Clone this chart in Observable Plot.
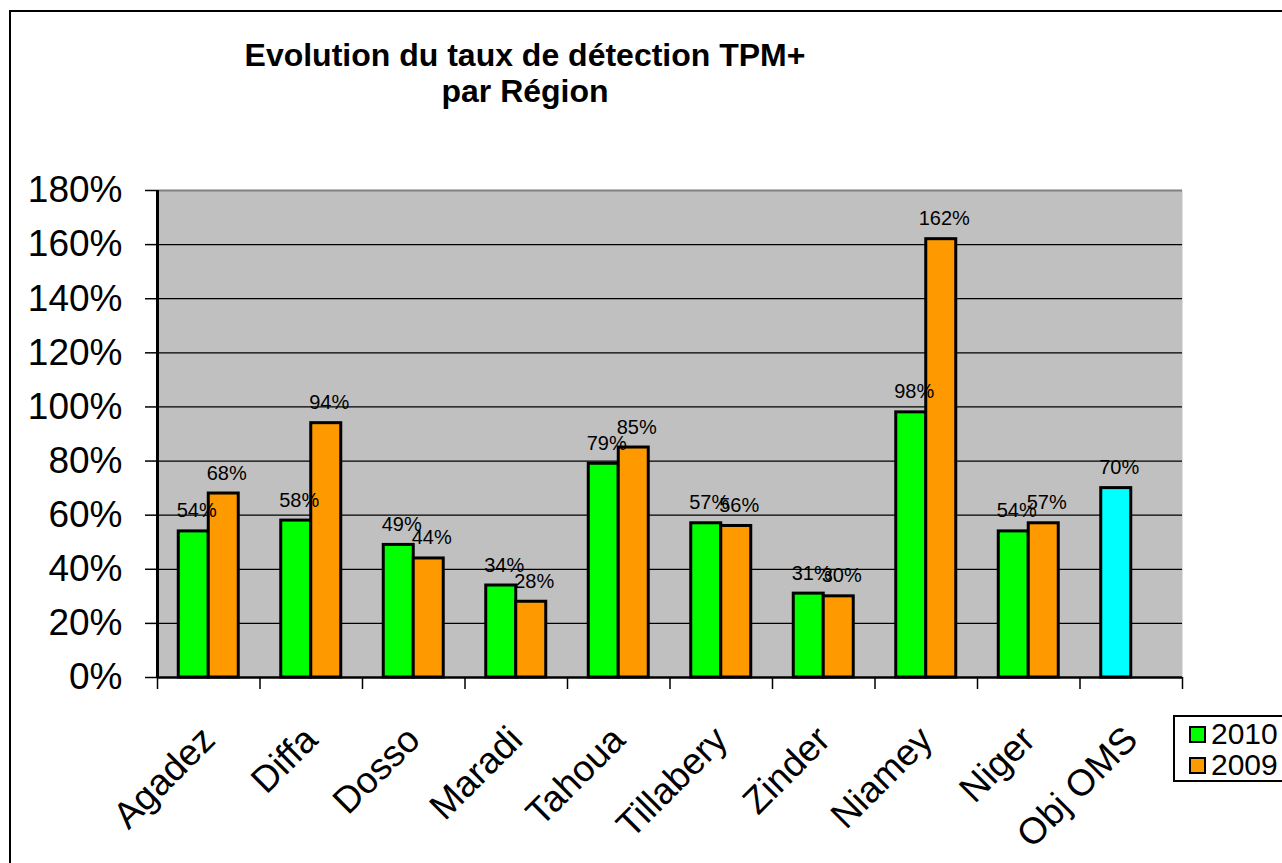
<!DOCTYPE html>
<html><head><meta charset="utf-8">
<script src="https://cdn.jsdelivr.net/npm/d3@7"></script>
<script src="https://cdn.jsdelivr.net/npm/@observablehq/plot@0.6"></script>
<style>
body{margin:0;background:#fff;font-family:"Liberation Sans",Arial,sans-serif;}
#wrap{position:relative;width:1282px;height:863px;overflow:hidden;}
#frame{position:absolute;left:9px;top:10px;width:1300px;height:900px;border-left:2px solid #000;border-top:2px solid #000;box-sizing:border-box;}
#chart{position:absolute;left:0;top:0;}
#title{position:absolute;left:225px;width:600px;top:37px;text-align:center;font-weight:bold;font-size:32px;line-height:36px;color:#000;}
#legend{position:absolute;left:1173px;top:715px;width:130px;height:67px;border:2px solid #000;background:#fff;box-sizing:border-box;}
.li{position:absolute;left:14px;height:30px;font-size:30px;line-height:30px;color:#000;}
.sw{display:inline-block;width:13px;height:13px;border:2px solid #000;vertical-align:middle;margin-right:5px;position:relative;top:-2px;}
</style>
</head><body>
<div id="wrap">
  <div id="frame"></div>
  <div id="chart"></div>
  <div id="title">Evolution du taux de détection TPM+<br>par Région</div>
  <div id="legend"></div>
</div>
<script>
const regions = ["Agadez","Diffa","Dosso","Maradi","Tahoua","Tillabery","Zinder","Niamey","Niger","Obj OMS"];
const values2010 = [0.54,0.58,0.49,0.34,0.79,0.57,0.31,0.98,0.54,0.70];
const values2009 = [0.68,0.94,0.44,0.28,0.85,0.56,0.30,1.62,0.57,null];
const seriesNames = ["2010","2009"];
const yTicks = [0,0.2,0.4,0.6,0.8,1.0,1.2,1.4,1.6,1.8];
const colors = {"2010":"#00FF00","2009":"#FF9900","Obj OMS":"#00FFFF"};

const d2010 = regions.map((r,i)=>({region:r, value:values2010[i], series:"2010"}));
const d2009 = regions.map((r,i)=>({region:r, value:values2009[i], series:"2009"})).filter(d=>d.value!=null);
const pct = d=>Math.round(d.value*100)+"%";
const fontFamily = '"Liberation Sans", Arial, sans-serif';

const chart = Plot.plot({
  width:1282, height:863,
  marginTop:190, marginBottom:186, marginLeft:157, marginRight:100,
  x:{domain:regions, paddingInner:0, paddingOuter:0, round:false, label:null},
  y:{domain:[0,1.8], label:null},
  style:{fontFamily, background:"transparent", color:"#000", overflow:"visible"},
  marks:[
    Plot.frame({fill:"#C0C0C0", stroke:null}),
    Plot.ruleY(yTicks.filter(t=>t>0 && t<1.8), {stroke:"#000", strokeWidth:1.3}),
    Plot.ruleY([1.8], {stroke:"#808080", strokeWidth:2}),
    Plot.barY(d2010, {x:"region", y:"value", fill:d=>d.region==="Obj OMS"?colors["Obj OMS"]:colors["2010"], stroke:"#000", strokeWidth:3, insetLeft:21.25, insetRight:51.25}),
    Plot.barY(d2009, {x:"region", y:"value", fill:colors["2009"], stroke:"#000", strokeWidth:3, insetLeft:51.25, insetRight:21.25}),
    Plot.ruleY([0], {stroke:"#000", strokeWidth:2.5}),
    Plot.ruleX([regions[0]], {x:d=>d, dx:-51.25, stroke:"#000", strokeWidth:3}),
    Plot.axisY({ticks:yTicks, tickFormat:d=>Math.round(d*100)+"%", tickSize:12, tickPadding:23, fontSize:37, strokeWidth:1.5, label:null}),
    Plot.axisX({tickSize:12, tickFormat:()=>"", dx:-51.25, strokeWidth:1.5, label:null}),
    Plot.axisX({ticks:[regions[regions.length-1]], tickSize:12, tickFormat:()=>"", dx:51.25, strokeWidth:1.5, label:null}),
    Plot.axisX({tickSize:0, tickRotate:-45, tickPadding:56, fontSize:37, label:null}),
    Plot.text(d2010, {x:"region", y:"value", text:pct, dx:-12, dy:-14, lineAnchor:"bottom", fontSize:20}),
    Plot.text(d2009, {x:"region", y:"value", text:pct, dx:18, dy:-14, lineAnchor:"bottom", fontSize:20})
  ]
});
document.getElementById("chart").appendChild(chart);

const legend = document.getElementById("legend");
seriesNames.forEach((s,i)=>{
  const row = document.createElement("div");
  row.className = "li";
  row.style.top = (2 + i*31) + "px";
  const sw = document.createElement("span");
  sw.className = "sw";
  sw.style.background = colors[s];
  row.appendChild(sw);
  row.appendChild(document.createTextNode(s));
  legend.appendChild(row);
});
</script>
</body></html>
